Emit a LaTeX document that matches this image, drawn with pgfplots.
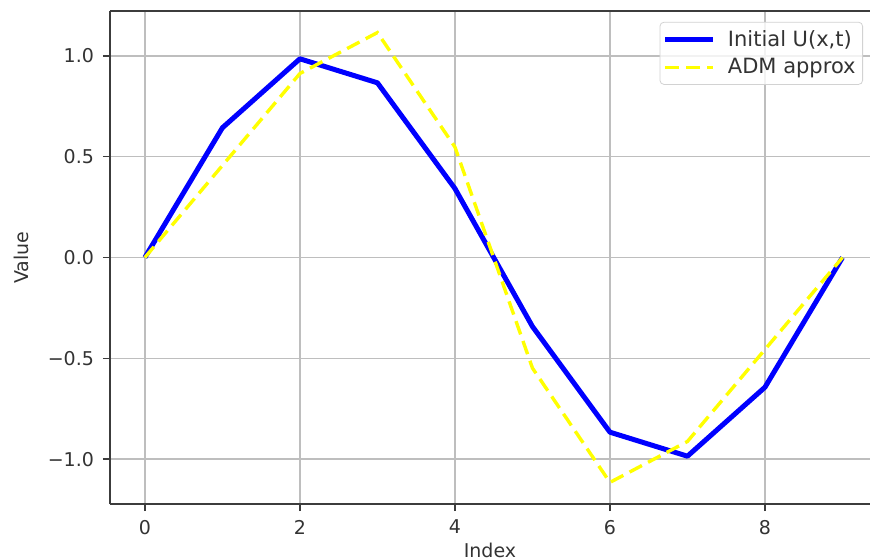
\documentclass[border=0pt]{standalone}
\usepackage{fontspec}
\setmainfont{DejaVu Sans}
\usepackage{pgfplots}
\pgfplotsset{compat=1.18}
\definecolor{gridgray}{RGB}{190,190,190}
\definecolor{spine}{RGB}{60,60,60}
\begin{document}
\begin{tikzpicture}
\useasboundingbox (-55bp,-28bp) rectangle (380bp,252bp);
\begin{axis}[
  scale only axis,
  width=380bp, height=246.5bp,
  xmin=-0.45, xmax=9.355,
  ymin=-1.222, ymax=1.222,
  separate axis lines,
  axis x line*=box,
  axis y line*=left,
  axis line style={spine, line width=1bp},
  xtick={0,2,4,6,8},
  xticklabels={0,2,4,6,8},
  ytick={-1,-0.5,0,0.5,1},
  yticklabels={−1.0,−0.5,0.0,0.5,1.0},
  xtick pos=bottom, ytick pos=left,
  tick align=outside,
  major tick length=3.5bp,
  tick style={spine, line width=0.8bp},
  grid=major,
  grid style={gridgray, line width=0.8bp},
  ticklabel style={font=\fontsize{9.5bp}{11bp}\selectfont, text=black!80},
  xticklabel style={yshift=-1bp},
  yticklabel style={xshift=-1bp},
  xlabel={Index},
  ylabel={Value},
  label style={font=\fontsize{9.5bp}{11bp}\selectfont, text=black!80, inner sep=0pt},
  xlabel style={at={([yshift=-19.5bp]axis description cs:0.5,0)}, anchor=north},
  ylabel style={at={([xshift=-44.5bp]axis description cs:0,0.5)}, anchor=center},
  legend cell align=left,
  legend style={
    at={(rel axis cs:0.9908,0.978)}, anchor=north east,
    draw=gray!35, rounded corners=2bp, fill=white, fill opacity=0.8, text opacity=1,
    font=\fontsize{10.5bp}{12bp}\selectfont, text=black!80,
    inner xsep=1.5bp, inner ysep=2bp,
    row sep=0.5bp,
  },
  legend image code/.code={\draw[#1] (0bp,0bp) -- (24bp,0bp); \path (28bp,0bp);},
]
\addplot[color={rgb,255:red,0;green,0;blue,255}, line width=2.5bp, line join=round]
  coordinates {(0,0) (1,0.643) (2,0.985) (3,0.866) (4,0.342) (5,-0.342) (6,-0.866) (7,-0.985) (8,-0.643) (9,0)};
\addlegendentry{Initial U(x,t)}
\addplot[color={rgb,255:red,255;green,255;blue,0}, line width=1.7bp, dash pattern=on 7bp off 3.5bp]
  coordinates {(0,0) (1,0.456) (2,0.912) (3,1.115) (4,0.548) (5,-0.548) (6,-1.115) (7,-0.912) (8,-0.456) (9,0)};
\addlegendentry{ADM approx}
\end{axis}
\end{tikzpicture}
\end{document}
